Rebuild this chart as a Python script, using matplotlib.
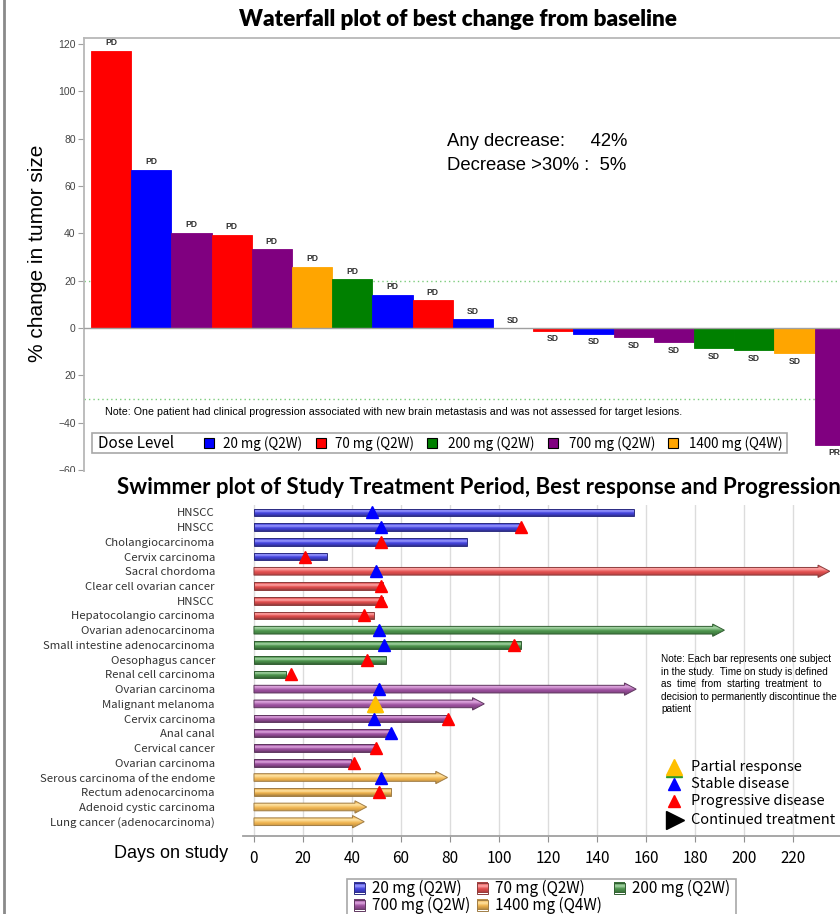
import numpy as np
import matplotlib.pyplot as plt
from matplotlib.patches import Rectangle, Polygon

W, H = 840, 914

# ---- waterfall data (best % change from baseline, sorted) ----
wf_values = [117.2, 66.9, 40.3, 39.4, 33.2, 25.9, 20.7, 14.1, 11.8, 3.7, 0.0,
             -1.1, -2.4, -3.9, -6.0, -8.5, -9.3, -10.7, -49.4]
wf_dose = ['70', '20', '700', '70', '700', '1400', '200', '20', '70', '20', '700',
           '70', '20', '700', '700', '200', '200', '1400', '700']
wf_resp = ['PD'] * 9 + ['SD'] * 9 + ['PR']
wf_yticks = [-60, -40, -20, 0, 20, 40, 60, 80, 100, 120]
wf_yticklabels = ['\u221260', '\u221240', '20', '0', '20', '40', '60', '80', '100', '120']

# ---- swimmer data (days on study) ----
sw_labels = ['HNSCC', 'HNSCC', 'Cholangiocarcinoma', 'Cervix carcinoma',
             'Sacral chordoma', 'Clear cell ovarian cancer', 'HNSCC',
             'Hepatocolangio carcinoma', 'Ovarian adenocarcinoma',
             'Small intestine adenocarcinoma', 'Oesophagus cancer',
             'Renal cell carcinoma', 'Ovarian carcinoma', 'Malignant melanoma',
             'Cervix carcinoma', 'Anal canal', 'Cervical cancer', 'Ovarian carcinoma',
             'Serous carcinoma of the endome', 'Rectum adenocarcinoma',
             'Adenoid cystic carcinoma', 'Lung cancer (adenocarcinoma)']
sw_dose = ['20'] * 4 + ['70'] * 4 + ['200'] * 4 + ['700'] * 6 + ['1400'] * 4
sw_days = [155, 108, 87, 30, 235, 52.5, 52.5, 49, 192, 109, 54, 13,
           156, 94, 79, 56, 50, 39.5, 79, 56, 46, 45]
sw_ongoing = [False, False, False, False, True, False, False, False, True, False, False, False,
              True, True, False, False, False, False, True, False, True, True]
nan = np.nan
sw_sd = [48, 52, nan, nan, 50, nan, nan, nan, 51, 53, nan, nan,
         51, nan, 49, 56, nan, nan, 52, nan, nan, nan]
sw_pd = [nan, 109, 52, 21, nan, 52, 52, 45, nan, 106, 46, 15,
         nan, nan, 79, nan, 50, 41, nan, 51, nan, nan]
sw_pr = [nan] * 13 + [49.4] + [nan] * 8
sw_xticks = [0, 20, 40, 60, 80, 100, 120, 140, 160, 180, 200, 220]

dose_names = ['20', '70', '200', '700', '1400']
dose_labels = ['20 mg (Q2W)', '70 mg (Q2W)', '200 mg (Q2W)', '700 mg (Q2W)', '1400 mg (Q4W)']
solid = {'20': '#0000ff', '70': '#ff0000', '200': '#008000', '700': '#800080', '1400': '#ffa500'}
# base / light / dark shades for the glossy swimmer bars
shade = {'20': ((70, 70, 225), (160, 160, 255), (45, 45, 130)),
         '70': ((228, 80, 80), (255, 170, 170), (140, 60, 60)),
         '200': ((78, 150, 78), (170, 215, 170), (50, 95, 50)),
         '700': ((158, 82, 160), (225, 170, 225), (95, 55, 95)),
         '1400': ((240, 180, 80), (255, 228, 165), (160, 125, 70))}

JP = ['Noto Sans CJK JP', 'DejaVu Sans']
AR = ['Liberation Sans', 'DejaVu Sans']
TT = ['Lato', 'DejaVu Sans']


def box(x0, y0, x1, y1):
    return [x0 / W, 1 - y1 / H, (x1 - x0) / W, (y1 - y0) / H]


def gradient(d, n=40):
    base, light, dark = [np.array(c) / 255 for c in shade[d]]
    t = np.linspace(0, 1, n)
    knots = [0, 0.12, 0.35, 0.6, 0.88, 1]
    cols = [dark, base, light, base, base * 0.8, dark]
    img = np.stack([np.interp(t, knots, [c[k] for c in cols]) for k in range(3)], axis=1)
    return img[:, None, :]


fig = plt.figure(figsize=(W / 100, H / 100), dpi=100)

# ================= waterfall =================
ax1 = fig.add_axes(box(84, 38, 870, 480))
xs = np.arange(1, len(wf_values) + 1)
ax1.bar(xs, wf_values, width=1.0, color=[solid[d] for d in wf_dose],
        edgecolor=[solid[d] for d in wf_dose], linewidth=0.6, zorder=2)
for x, v, r in zip(xs, wf_values, wf_resp):
    if v >= 0:
        ax1.annotate(r, (x, v), xytext=(0, 2.5), textcoords='offset points', ha='center',
                     va='bottom', fontsize=6.2, fontweight='bold', color='#333333', family=AR)
    else:
        ax1.annotate(r, (x, v), xytext=(0, -2.5), textcoords='offset points', ha='center',
                     va='top', fontsize=6.2, fontweight='bold', color='#333333', family=AR)
ax1.axhline(0, color='#a0a0a0', lw=1.0, zorder=3)
ax1.axhline(20, color='#7ccc7c', lw=1.0, ls=(0, (1, 2.2)), zorder=1)
ax1.axhline(-30, color='#7ccc7c', lw=1.0, ls=(0, (1, 2.2)), zorder=1)
ax1.set_xlim(0.328, 19.88)
ax1.set_ylim(-64.2, 122.5)
ax1.set_xticks([])
ax1.set_yticks(wf_yticks)
ax1.set_yticklabels(wf_yticklabels, fontsize=7.5, color='#444444', family=AR)
ax1.tick_params(axis='y', length=4, width=0.8, color='#a0a0a0', pad=2)
for s in ['right', 'bottom']:
    ax1.spines[s].set_visible(False)
for s in ['left', 'top']:
    ax1.spines[s].set_color('#b8b8b8')
    ax1.spines[s].set_linewidth(1.3)

# white cover: lower panel sits over the clipped waterfall
fig.patches.append(Rectangle((8 / W, 0), 1, 1 - 472 / H, transform=fig.transFigure,
                             facecolor='white', edgecolor='none', zorder=1))

# ================= swimmer =================
ax2 = fig.add_axes(box(242.7, 505, 880, 835.7))
ax2.set_zorder(2)
ax2.patch.set_alpha(0)
h, hh, hl = 0.52, 0.84, 4.8
for i, (end, d, ong) in enumerate(zip(sw_days, sw_dose, sw_ongoing)):
    if ong:
        pts = [(0, i - h / 2), (end - hl, i - h / 2), (end - hl, i - hh / 2), (end, i),
               (end - hl, i + hh / 2), (end - hl, i + h / 2), (0, i + h / 2)]
        ext = hh
    else:
        pts = [(0, i - h / 2), (end, i - h / 2), (end, i + h / 2), (0, i + h / 2)]
        ext = h
    outline = Polygon(pts, closed=True, facecolor='none',
                      edgecolor=np.array(shade[d][2]) / 255, lw=0.7, zorder=3)
    ax2.add_patch(outline)
    im = ax2.imshow(gradient(d), extent=(0, end, i + ext / 2, i - ext / 2), aspect='auto',
                    origin='upper', interpolation='bilinear', zorder=2)
    im.set_clip_path(outline)

rows = np.arange(len(sw_labels))
ax2.plot(sw_pr, rows + 0.1, ls='none', marker='^', ms=10, color='#2a9a2a', zorder=4)
ax2.plot(sw_pr, rows - 0.02, ls='none', marker='^', ms=11, color='#ffc000', zorder=5)
ax2.plot(sw_sd, rows, ls='none', marker='^', ms=8.5, color='#0000ff', zorder=5)
ax2.plot(sw_pd, rows, ls='none', marker='^', ms=8.5, color='#ff0000', zorder=5)

ax2.set_xlim(-4.6, 255.5)
ax2.set_ylim(21.95, -0.5)
ax2.set_xticks(sw_xticks)
ax2.set_xticklabels([str(t) for t in sw_xticks], fontsize=11, family=JP)
ax2.set_yticks(rows)
ax2.set_yticklabels(sw_labels, fontsize=8.2, family=JP, color='#333333')
ax2.tick_params(axis='y', length=0, pad=20)
ax2.tick_params(axis='x', length=4, width=0.8, color='#909090', pad=6)
ax2.grid(axis='x', color='#dcdcdc', lw=1.0, zorder=0)
ax2.set_axisbelow(True)
for s in ['left', 'right', 'top']:
    ax2.spines[s].set_visible(False)
ax2.spines['bottom'].set_color('#a0a0a0')
ax2.spines['bottom'].set_linewidth(1.3)

# ================= overlay: titles, notes, legends =================
ov = fig.add_axes([0, 0, 1, 1], zorder=5)
ov.set_xlim(0, W)
ov.set_ylim(H, 0)
ov.axis('off')

ov.plot([4, 4], [0, H], color='#8a8a8a', lw=2)

ov.text(458, 20, 'Waterfall plot of best change from baseline', ha='center', va='center',
        fontsize=16.2, fontweight='heavy', family=TT)
ov.text(38, 253, '% change in tumor size', rotation=90, ha='center', va='center',
        fontsize=15, family=AR)
ov.text(447, 142, 'Any decrease:     42%', ha='left', va='center', fontsize=13.3, family=AR)
ov.text(447, 165, 'Decrease >30% :  5%', ha='left', va='center', fontsize=13.3, family=AR)
ov.text(105, 412, 'Note: One patient had clinical progression associated with new brain '
        'metastasis and was not assessed for target lesions.', ha='left', va='center',
        fontsize=7.65, family=AR)

# dose legend of the waterfall
ov.add_patch(Rectangle((92, 433), 695, 20, facecolor='white', edgecolor='#a8a8a8', lw=1.2))
ov.text(98, 444, 'Dose Level', ha='left', va='center', fontsize=11, family=JP)
for sx, tx, d, lab in zip([204, 316, 427, 548, 668], [223, 335, 448, 569, 689],
                          dose_names, dose_labels):
    ov.add_patch(Rectangle((sx, 438), 10, 10, facecolor=solid[d], edgecolor='black', lw=0.8))
    ov.text(tx, 443.5, lab, ha='left', va='center', fontsize=9.7, family=JP)

ov.text(117, 488, 'Swimmer plot of Study Treatment Period, Best response and Progression',
        ha='left', va='center', fontsize=16, fontweight='bold', family=TT)
ov.text(228, 853, 'Days on study', ha='right', va='center', fontsize=13, family=AR)

note = ['Note: Each bar represents one subject', 'in the study.  Time on study is defined',
        'as  time  from  starting  treatment  to', 'decision to permanently discontinue the',
        'patient']
for k, line in enumerate(note):
    ov.text(661, 659 + k * 12.6, line, ha='left', va='center', fontsize=7.2, family=AR)

# response marker legend
ov.plot([674], [769], marker='^', ms=12, color='#2a9a2a', ls='none')
ov.plot([674], [767], marker='^', ms=12, color='#ffc000', ls='none')
ov.plot([674], [784], marker='^', ms=9, color='#0000ff', ls='none')
ov.plot([674], [801], marker='^', ms=9, color='#ff0000', ls='none')
ov.plot([675], [820], marker='>', ms=13, color='black', ls='none')
for y, t in zip([767, 784, 801, 820], ['Partial response', 'Stable disease',
                                       'Progressive disease', 'Continued treatment']):
    ov.text(691, y, t, ha='left', va='center', fontsize=10.5, family=JP)

# dose legend of the swimmer
ov.add_patch(Rectangle((347, 879), 389, 50, facecolor='white', edgecolor='#a8a8a8', lw=1.2))
for (sx, sy), d, lab in zip([(354, 888), (477, 888), (614, 888), (354, 905), (477, 905)],
                            dose_names, dose_labels):
    ov.imshow(gradient(d), extent=(sx, sx + 11, sy + 5.5, sy - 5.5), aspect='auto',
              interpolation='bilinear', zorder=3)
    ov.add_patch(Rectangle((sx, sy - 5.5), 11, 11, facecolor='none',
                           edgecolor=np.array(shade[d][2]) / 255, lw=0.7, zorder=4))
    ov.text(sx + 18, sy, lab, ha='left', va='center', fontsize=11, family=JP)
ov.set_xlim(0, W)
ov.set_ylim(H, 0)

fig.savefig('out.png', dpi=100)
